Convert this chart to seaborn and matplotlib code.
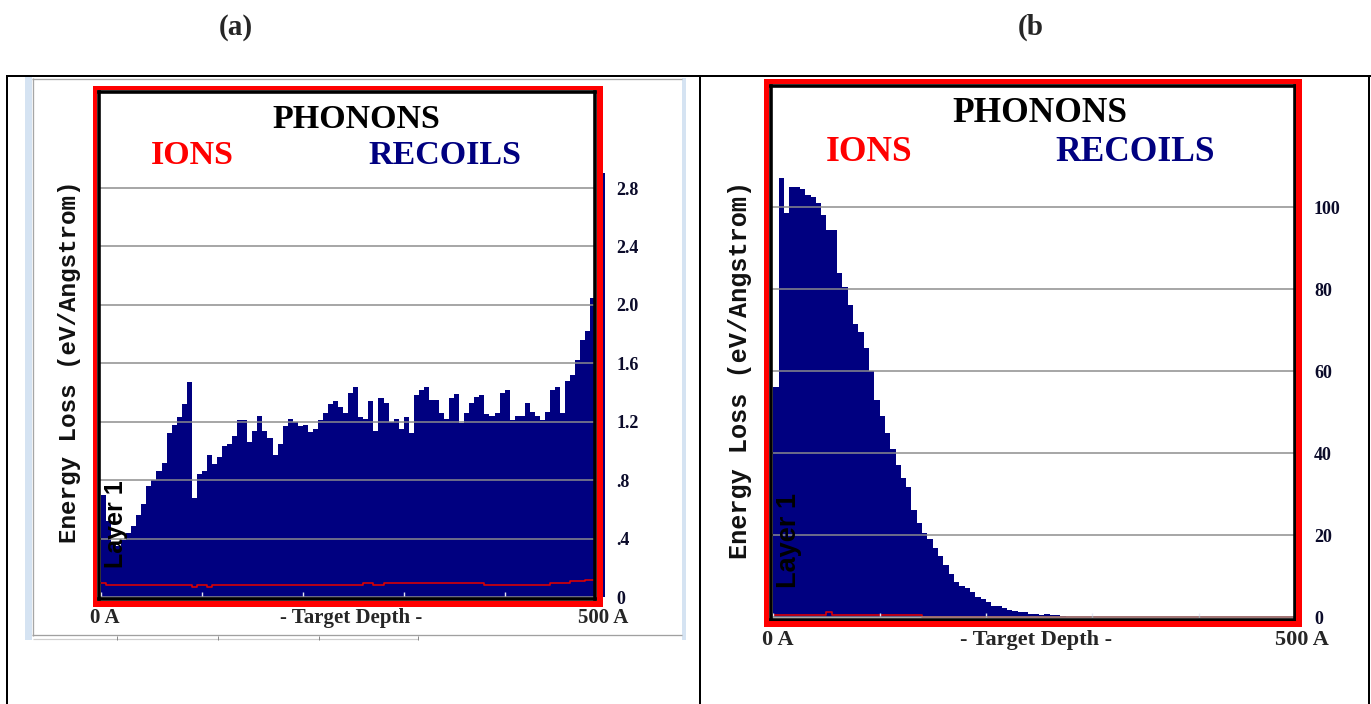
import numpy as np
import pandas as pd
import matplotlib
matplotlib.use("Agg")
import matplotlib.pyplot as plt
from matplotlib.patches import Rectangle
from matplotlib.lines import Line2D
import seaborn as sns

# ---------------- data: energy loss per 5 A depth bin (eV/Angstrom) ----------------
bin_width = 5  # Angstrom

recoils_a = [
    0.70, 0.52, 0.38, 0.35, 0.39, 0.44, 0.49, 0.56, 0.64, 0.76,
    0.80, 0.86, 0.92, 1.12, 1.18, 1.23, 1.32, 1.47, 0.68, 0.84,
    0.86, 0.97, 0.91, 0.96, 1.035, 1.05, 1.10, 1.21, 1.21, 1.06,
    1.14, 1.24, 1.14, 1.09, 0.97, 1.05, 1.17, 1.22, 1.20, 1.17,
    1.18, 1.13, 1.15, 1.21, 1.26, 1.32, 1.34, 1.30, 1.26, 1.40,
    1.44, 1.23, 1.22, 1.34, 1.14, 1.36, 1.33, 1.20, 1.22, 1.15,
    1.23, 1.12, 1.38, 1.42, 1.44, 1.35, 1.35, 1.26, 1.22, 1.36,
    1.39, 1.19, 1.26, 1.33, 1.37, 1.38, 1.25, 1.24, 1.26, 1.40,
    1.42, 1.21, 1.24, 1.24, 1.33, 1.27, 1.24, 1.21, 1.27, 1.42,
    1.44, 1.26, 1.48, 1.52, 1.62, 1.76, 1.82, 2.05, 2.25, 2.90,
]
ions_a = (
    [0.098] + [0.082] * 17 + [0.072, 0.082, 0.082, 0.072] + [0.082] * 30
    + [0.098] * 2 + [0.082] * 2 + [0.098] * 20 + [0.082] * 13
    + [0.098] * 4 + [0.112] * 3 + [0.12] * 4
)

recoils_b = [
    56.0, 107.0, 98.5, 105.0, 105.0, 104.5, 103.0, 102.5, 101.0, 98.0,
    94.5, 94.5, 84.0, 80.5, 76.0, 71.5, 69.5, 65.5, 60.0, 53.0,
    49.0, 45.0, 41.0, 37.0, 33.8, 31.6, 26.0, 23.0, 20.5, 19.0,
    16.8, 14.8, 12.8, 10.5, 8.5, 7.6, 7.0, 6.0, 4.9, 4.3,
    3.6, 2.8, 2.6, 2.2, 1.7, 1.5, 1.2, 1.1, 0.8, 0.7,
    0.5, 0.8, 0.4, 0.4, 0.2, 0.1,
] + [0.0] * 44
ions_b = [0.6] * 10 + [1.3] + [0.6] * 17 + [0.0] * 72

yticks_a = [0, 0.4, 0.8, 1.2, 1.6, 2.0, 2.4, 2.8]
ylabels_a = ["0", ".4", ".8", "1.2", "1.6", "2.0", "2.4", "2.8"]
yticks_b = [0, 20, 40, 60, 80, 100]
ylabels_b = ["0", "20", "40", "60", "80", "100"]
depth_ticks = [0, 100, 200, 300, 400]

NAVY = "#000080"
RED = "#ff0000"
ION_RED = "#e00000"
GRID = "#8c8c8c"
SERIF = ["Liberation Serif", "DejaVu Serif"]
MONO = ["Liberation Mono", "DejaVu Sans Mono"]
SANS = ["Liberation Sans", "DejaVu Sans"]

sns.set_theme(style="white")
plt.rcParams["font.family"] = SERIF

W, H = 1371, 704
fig = plt.figure(figsize=(W / 100, H / 100), dpi=100)
fig.patch.set_facecolor("white")
PT = 72 / 100  # points per pixel


def frac_rect(x0, y0, x1, y1):
    return [x0 / W, 1 - y1 / H, (x1 - x0) / W, (y1 - y0) / H]


def box(x0, y0, x1, y1, color, z):
    fig.add_artist(Rectangle((x0 / W, 1 - y1 / H), (x1 - x0) / W, (y1 - y0) / H,
                             transform=fig.transFigure, facecolor=color,
                             edgecolor="none", zorder=z))


def line(xs, ys, color, lw_px, z=-1):
    fig.add_artist(Line2D([x / W for x in xs], [1 - y / H for y in ys],
                          transform=fig.transFigure, color=color,
                          linewidth=lw_px * PT, zorder=z, solid_capstyle="butt"))


def text(x, y, s, size, **kw):
    fig.text(x / W, 1 - y / H, s, fontsize=size, **kw)


# ---------------- table grid ----------------
for xs, ys in [([6, 1371], [75.8, 75.8]), ([7, 7], [75, 704]),
               ([700.3, 700.3], [75, 704]), ([1369.3, 1369.3], [75, 704])]:
    line(xs, ys, "black", 2.0)

# window frame around the left panel
box(25, 76, 32, 640, "#d5e3f2", -2)
box(682, 78, 686, 640, "#d5e3f2", -2)
line([32, 682], [78.6, 78.6], "#a6a6a6", 1.3)
line([32.6, 32.6], [78, 635.5], "#a6a6a6", 1.3)
line([32, 682], [635.4, 635.4], "#a0a0a0", 1.3)
line([33, 418], [638.6, 638.6], "#cfcfcf", 1.2)
for tx in [117, 218, 319, 418]:
    line([tx, tx], [636, 640], "#8a8a8a", 1.0)

SPINE_PX = 3.6


def draw_panel(recoils, ions, frame, red_outer, x0_px, px_per_A, y0_px, px_per_unit,
               yticks, ylabels, label_pad_px, extra_last_bar=False):
    fl, ft, fr, fb = frame
    ax = fig.add_axes(frac_rect(fl, ft, fr, fb))
    ax.set_facecolor("white")
    n = len(recoils)
    edges = [i * bin_width for i in range(n + 1)]
    df = pd.DataFrame({
        "depth": [e + bin_width / 2 for e in edges[:-1]],
        "left": edges[:-1],
        "recoils": recoils,
        "ions": ions,
    })

    sns.histplot(data=df, x="depth", weights="recoils", bins=edges, element="step",
                 fill=True, color=NAVY, alpha=1.0, linewidth=0, ax=ax, zorder=1)
    sns.lineplot(data=df, x="left", y="ions", drawstyle="steps-post", color=ION_RED,
                 linewidth=1.6 * PT, errorbar=None, ax=ax, zorder=2)
    if extra_last_bar:
        ax.bar(df["depth"].iloc[-1], df["recoils"].iloc[-1], width=bin_width,
               color=NAVY, linewidth=0, clip_on=False, zorder=1)

    ax.set_xlim((fl - x0_px) / px_per_A, (fr - x0_px) / px_per_A)
    ax.set_ylim((y0_px - fb) / px_per_unit, (y0_px - ft) / px_per_unit)
    ax.set(xlabel="", ylabel="")

    ax.set_axisbelow(False)
    ax.yaxis.tick_right()
    ax.set_yticks(yticks, labels=ylabels)
    ax.set_xticks(depth_ticks, labels=[""] * len(depth_ticks))
    ax.grid(axis="y", color=GRID, linewidth=1.5 * PT)
    ax.grid(axis="x", visible=False)
    ax.tick_params(axis="y", length=0, pad=label_pad_px * PT, labelsize=13,
                   labelcolor="#0b0b2a", left=False, labelleft=False,
                   right=True, labelright=True)
    ax.tick_params(axis="x", direction="in", length=7 * PT, width=1.4 * PT,
                   color="#e6e6f5", bottom=True, labelbottom=False)
    for lab in ax.get_yticklabels():
        lab.set_fontweight("bold")
        lab.set_fontfamily(SERIF)
    for sp in ax.spines.values():
        sp.set_visible(True)
        sp.set_color("black")
        sp.set_linewidth(SPINE_PX * PT)
        sp.set_zorder(4)

    # red outer frame
    ol, ot, orr, ob = red_outer
    h = SPINE_PX / 2
    il, it, ir, ib = fl - h, ft - h, fr + h, fb + h
    box(ol, ot, il, ob, RED, 1)
    box(ir, ot, orr, ob, RED, 1)
    box(ol, ot, orr, it, RED, 1)
    box(ol, ib, orr, ob, RED, 1)
    return ax


# ---------------- panel (a) ----------------
draw_panel(recoils_a, ions_a, frame=(98.7, 91.7, 595.0, 598.7),
           red_outer=(92.5, 86.3, 603.3, 606.7),
           x0_px=101.0, px_per_A=1.009, y0_px=597.1, px_per_unit=146.1,
           yticks=yticks_a, ylabels=ylabels_a, label_pad_px=21.5,
           extra_last_bar=True)

# ---------------- panel (b) ----------------
draw_panel(recoils_b, ions_b, frame=(770.5, 85.8, 1294.5, 619.5),
           red_outer=(764.0, 79.3, 1301.7, 626.7),
           x0_px=773.3, px_per_A=1.063, y0_px=617.0, px_per_unit=4.1,
           yticks=yticks_b, ylabels=ylabels_b, label_pad_px=19.5)

# ---------------- captions and in-plot labels ----------------
text(236, 27.5, "(a)", 21, fontweight="bold", ha="center", va="center")
text(1031, 27.5, "(b", 21, fontweight="bold", ha="center", va="center")

for (cx_ph, base_ph, cx_ion, cx_rec, base_lbl, size) in [
        (356, 127.8, 192, 445, 163.5, 24.5),
        (1040, 122.4, 869, 1135, 160.6, 25.5)]:
    text(cx_ph, base_ph, "PHONONS", size, fontweight="bold", color="black",
         ha="center", va="baseline")
    text(cx_ion, base_lbl, "IONS", size, fontweight="bold", color=RED,
         ha="center", va="baseline")
    text(cx_rec, base_lbl, "RECOILS", size, fontweight="bold", color=NAVY,
         ha="center", va="baseline")

for (cx, cy, size) in [(70, 361.5, 17.5), (740.5, 370, 18.2)]:
    text(cx, cy, "Energy Loss (eV/Angstrom)", size, family=MONO, fontweight="bold",
         rotation=90, ha="center", va="center", color="#111111")

for (cx, cy, size) in [(116, 524, 18), (789, 540.5, 19.5)]:
    text(cx, cy, "Layer 1", size, family=SANS, fontweight="bold",
         rotation=90, ha="center", va="center", color="black")

for (x_left, x_mid, x_right, base, size) in [(105, 351, 603.3, 623.3, 15),
                                              (778, 1036.5, 1301.7, 645, 16)]:
    text(x_left, base, "0 A", size, fontweight="bold", ha="center", va="baseline")
    text(x_mid, base, "- Target Depth -", size, fontweight="bold", ha="center",
         va="baseline")
    text(x_right, base, "500 A", size, fontweight="bold", ha="center", va="baseline")

fig.savefig("out.png", dpi=100)
